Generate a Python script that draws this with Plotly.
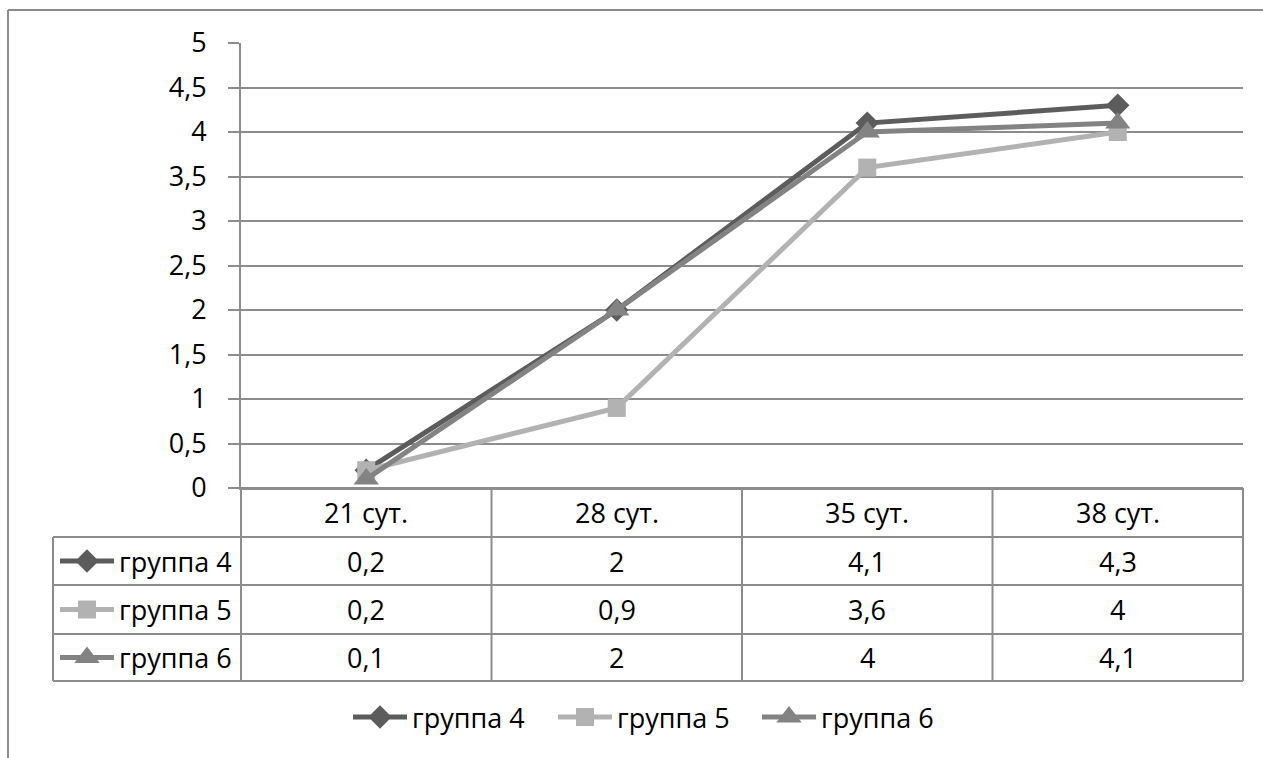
import plotly.graph_objects as go

# --- data -------------------------------------------------------------
days = ["21 сут.", "28 сут.", "35 сут.", "38 сут."]
group_names = ["группа 4", "группа 5", "группа 6"]
group4 = [0.2, 2, 4.1, 4.3]
group5 = [0.2, 0.9, 3.6, 4]
group6 = [0.1, 2, 4, 4.1]
y_ticks = [0, 0.5, 1, 1.5, 2, 2.5, 3, 3.5, 4, 4.5, 5]

series = [group4, group5, group6]
colors = ["#5c5c5c", "#b2b2b2", "#838383"]
symbols = ["diamond", "square", "triangle-up"]
marker_sizes = [18, 18, 22]

# --- page geometry ----------------------------------------------------
W, H = 1263, 758
FONT = "Open Sans"
FS = 27
GRID = "#8c8c8c"

def px(x):
    return x / W

def py(y):
    return 1 - y / H

plot_left, plot_right = 241, 1243
plot_top, plot_bottom = 43, 488
row_edges = [488, 537, 585, 634, 681]   # header row + one row per group
key_left = 53
legend_y = 717
legend_key_centers = [380, 585, 789]     # bottom legend: marker centres

fig = go.Figure()

for name, vals, col, sym, ms in zip(group_names, series, colors, symbols, marker_sizes):
    fig.add_trace(go.Scatter(
        x=days, y=vals, name=name, mode="lines+markers",
        line=dict(color=col, width=5),
        marker=dict(symbol=sym, size=ms, color=col),
        xaxis="x", yaxis="y", showlegend=False,
    ))

annotations = []
txt_font = dict(family=FONT, size=FS, color="#000000")

def add_key(xc, yc, col, sym, ms, half=27):
    """A legend swatch: short line with the series marker in the middle."""
    fig.add_trace(go.Scatter(
        x=[xc - half, xc + half], y=[yc, yc], mode="lines",
        line=dict(color=col, width=5), showlegend=False, hoverinfo="skip",
        xaxis="x2", yaxis="y2",
    ))
    fig.add_trace(go.Scatter(
        x=[xc], y=[yc], mode="markers",
        marker=dict(symbol=sym, size=ms, color=col), showlegend=False,
        hoverinfo="skip", xaxis="x2", yaxis="y2",
    ))

# swatches in the data table
for i, (name, col, sym, ms) in enumerate(zip(group_names, colors, symbols, marker_sizes)):
    yc = (row_edges[i + 1] + row_edges[i + 2]) / 2
    add_key(87, yc, col, sym, ms)
    annotations.append(dict(x=px(117), xref="paper", y=py(yc), yref="paper", text=name,
                            showarrow=False, font=txt_font, xanchor="left", yanchor="middle"))

# bottom legend
for xc, name, col, sym, ms in zip(legend_key_centers, group_names, colors, symbols, marker_sizes):
    add_key(xc, legend_y, col, sym, ms)
    annotations.append(dict(x=px(xc + 30), xref="paper", y=py(legend_y), yref="paper",
                            text=name, showarrow=False, font=txt_font,
                            xanchor="left", yanchor="middle"))

shapes = []
line_style = dict(color=GRID, width=2)

# outer chart frame (runs off the right and bottom edges)
shapes.append(dict(type="line", xref="paper", yref="paper",
                   x0=px(8), x1=px(W + 5), y0=py(10), y1=py(10), line=line_style))
shapes.append(dict(type="line", xref="paper", yref="paper",
                   x0=px(8), x1=px(8), y0=py(10), y1=py(H + 5), line=line_style))

# data table grid
col_edges = [plot_left + k * (plot_right - plot_left) / len(days) for k in range(len(days) + 1)]
for k, ye in enumerate(row_edges):
    x0 = plot_left if k == 0 else key_left
    shapes.append(dict(type="line", xref="paper", yref="paper",
                       x0=px(x0), x1=px(plot_right), y0=py(ye), y1=py(ye), line=line_style))
for xe in col_edges:
    shapes.append(dict(type="line", xref="paper", yref="paper",
                       x0=px(xe), x1=px(xe), y0=py(row_edges[0]), y1=py(row_edges[-1]),
                       line=line_style))
shapes.append(dict(type="line", xref="paper", yref="paper",
                   x0=px(key_left), x1=px(key_left), y0=py(row_edges[1]), y1=py(row_edges[-1]),
                   line=line_style))

def fmt(v):
    return f"{v:g}".replace(".", ",")

# header row: categories
for d in days:
    annotations.append(dict(x=d, xref="x", y=py((row_edges[0] + row_edges[1]) / 2), yref="paper",
                            text=d, showarrow=False, font=txt_font,
                            xanchor="center", yanchor="middle"))
# value rows
for i, vals in enumerate(series):
    yc = py((row_edges[i + 1] + row_edges[i + 2]) / 2)
    for d, v in zip(days, vals):
        annotations.append(dict(x=d, xref="x", y=yc, yref="paper", text=fmt(v),
                                showarrow=False, font=txt_font,
                                xanchor="center", yanchor="middle"))

fig.update_layout(
    width=W, height=H,
    margin=dict(l=0, r=0, t=0, b=0, autoexpand=False),
    paper_bgcolor="white", plot_bgcolor="rgba(0,0,0,0)",
    separators=", ",
    font=dict(family=FONT, size=FS, color="#000000"),
    showlegend=False,
    xaxis=dict(domain=[px(plot_left), px(plot_right)], range=[-0.5, len(days) - 0.5],
               type="category", showticklabels=False, showgrid=False, zeroline=False,
               showline=True, linecolor=GRID, linewidth=2, ticks="", fixedrange=True),
    yaxis=dict(domain=[py(plot_bottom), py(plot_top)], range=[0, 5],
               tickvals=y_ticks, showgrid=True, gridcolor=GRID, gridwidth=2,
               zeroline=False, showline=True, linecolor=GRID, linewidth=2,
               ticks="outside", ticklen=11, tickcolor=GRID, tickwidth=2,
               ticklabelstandoff=16, tickfont=dict(family=FONT, size=FS, color="#000000"),
               fixedrange=True),
    xaxis2=dict(domain=[0, 1], range=[0, W], anchor="y2", visible=False, fixedrange=True),
    yaxis2=dict(domain=[0, 1], range=[H, 0], anchor="x2", visible=False, fixedrange=True),
    shapes=shapes,
    annotations=annotations,
)

fig.write_html("out.html")
